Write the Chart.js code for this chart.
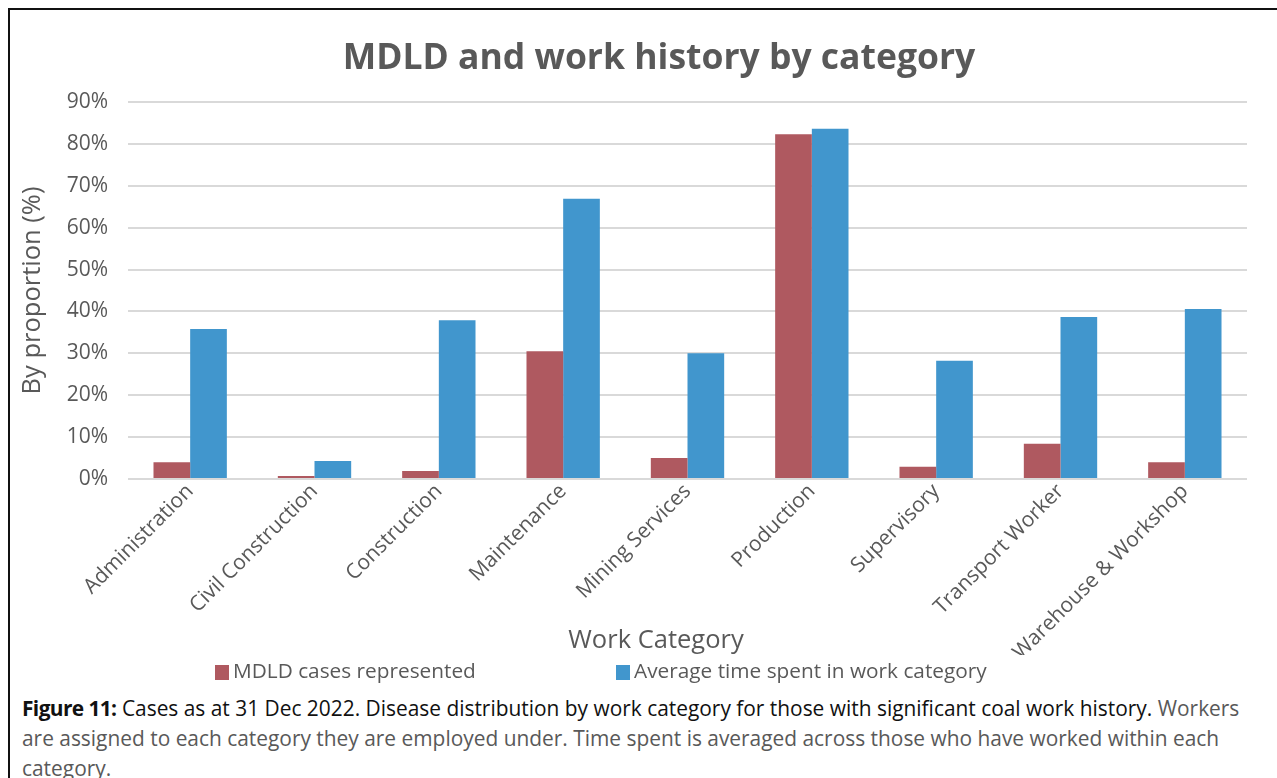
<!DOCTYPE html>
<html>
<head>
<meta charset="utf-8">
<script src="https://cdn.jsdelivr.net/npm/chart.js@4"></script>
<style>
  html, body { margin: 0; padding: 0; background: #fff; }
  body { width: 1277px; height: 778px; overflow: hidden; position: relative; font-family: "Open Sans", sans-serif; }
  #frame { position: absolute; left: 8px; top: 8px; width: 1300px; height: 800px; border: 2px solid #111; box-sizing: border-box; }
  #chartBox { position: absolute; left: 10px; top: 10px; width: 1267px; height: 680px; }
  #caption { position: absolute; left: 22px; top: 693px; width: 1250px; font-size: 20.9px; line-height: 30px; color: #111; white-space: nowrap; }
  #caption b { font-weight: 700; letter-spacing: -0.6px; }
  #caption .note { color: #595959; }
</style>
</head>
<body>
<div id="frame"></div>
<div id="chartBox"><canvas id="chart"></canvas></div>
<div id="caption"><b>Figure 11:</b> Cases as at 31 Dec 2022. Disease distribution by work category for those with significant coal work history. <span class="note">Workers<br>are assigned to each category they are employed under. Time spent is averaged across those who have worked within each<br>category.</span></div>
<script>
// Work categories along the x axis
const categories = [
  'Administration', 'Civil Construction', 'Construction', 'Maintenance',
  'Mining Services', 'Production', 'Supervisory', 'Transport Worker',
  'Warehouse & Workshop'
];
// Share of MDLD cases in each category (%)
const mdldCases = [4.0, 0.7, 1.9, 30.5, 5.0, 82.3, 2.9, 8.4, 4.0];
// Average share of time spent in each category (%)
const avgTime = [35.8, 4.3, 37.9, 66.9, 30.0, 83.6, 28.2, 38.7, 40.6];
// Y axis ticks
const yTicks = [0, 10, 20, 30, 40, 50, 60, 70, 80, 90];

const chartTitle = 'MDLD and work history by category';
const xTitle = 'Work Category';
const seriesNames = ['MDLD cases represented', 'Average time spent in work category'];
const seriesColors = ['#AF5960', '#4196CD'];
const textGrey = '#595959';
const font = '"Open Sans", sans-serif';

// Chart title on top, x axis title and legend underneath the rotated category labels
const chartText = {
  id: 'chartText',
  afterDraw(chart) {
    const ctx = chart.ctx;
    const area = chart.chartArea;
    ctx.save();
    ctx.fillStyle = textGrey;
    ctx.textAlign = 'center';
    ctx.textBaseline = 'middle';
    ctx.font = 'bold 35.5px ' + font;
    ctx.fillText(chartTitle, area.left + 531, 49);

    ctx.font = '25.5px ' + font;
    ctx.fillText(xTitle, area.left + 528, 631);

    const y = 662;
    const starts = [area.left + 87, area.left + 488];
    ctx.font = '20.8px ' + font;
    ctx.textAlign = 'left';
    chart.data.datasets.forEach((ds, i) => {
      ctx.fillStyle = ds.backgroundColor;
      ctx.fillRect(starts[i], y - 7, 14, 15);
      ctx.fillStyle = textGrey;
      ctx.fillText(ds.label, starts[i] + 18, y);
    });
    ctx.restore();
  }
};

new Chart(document.getElementById('chart'), {
  type: 'bar',
  data: {
    labels: categories,
    datasets: [
      { label: seriesNames[0], data: mdldCases, backgroundColor: seriesColors[0] },
      { label: seriesNames[1], data: avgTime, backgroundColor: seriesColors[1] }
    ]
  },
  options: {
    responsive: true,
    maintainAspectRatio: false,
    animation: false,
    layout: { padding: { left: 0, right: 30, top: 92, bottom: 35 } },
    datasets: { bar: { categoryPercentage: 0.59, barPercentage: 1.0 } },
    plugins: {
      legend: { display: false },
      tooltip: { enabled: false },
      title: { display: false }
    },
    scales: {
      x: {
        grid: { display: false, drawTicks: false },
        border: { display: false },
        ticks: {
          color: textGrey,
          font: { family: font, size: 21 },
          minRotation: 45,
          maxRotation: 45,
          padding: 0,
          autoSkip: false
        },
        afterFit(scale) { scale.height = 176; }
      },
      y: {
        min: 0,
        max: 90,
        afterBuildTicks(scale) { scale.ticks = yTicks.map(v => ({ value: v })); },
        grid: { color: '#D9D9D9', lineWidth: 2, drawTicks: false },
        border: { display: false },
        ticks: {
          color: textGrey,
          font: { family: font, size: 21 },
          padding: 20,
          callback: v => v + '%'
        },
        title: {
          display: true,
          text: 'By proportion (%)',
          color: textGrey,
          font: { family: font, size: 25.5 },
          padding: { top: 7, bottom: 0 }
        },
        afterFit(scale) { scale.width = 118; }
      }
    }
  },
  plugins: [chartText]
});
</script>
</body>
</html>
